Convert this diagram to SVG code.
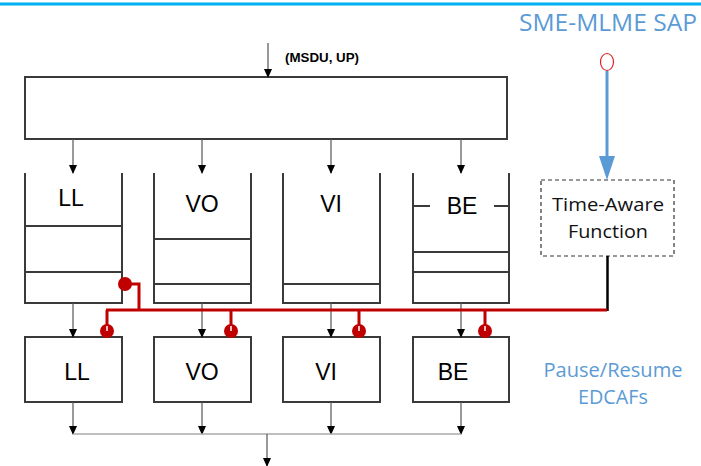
<svg xmlns="http://www.w3.org/2000/svg" width="701" height="466" viewBox="0 0 701 466">
<style>
.box{fill:#fff;stroke:#3a3a3a;stroke-width:2}
.q{fill:none;stroke:#3a3a3a;stroke-width:2}
.lbl{font-family:"Liberation Sans",Arial,sans-serif;font-size:23px;fill:#000;text-anchor:middle}
.blue{font-family:"Open Sans","Liberation Sans",sans-serif;fill:#5b9bd5;text-anchor:middle}
.taf{font-family:"Open Sans","Liberation Sans",sans-serif;fill:#111;text-anchor:middle;font-size:18px}
.arr{stroke:#555;stroke-width:1.2;fill:none;marker-end:url(#ah)}
.red{stroke:#c00000;stroke-width:3;fill:none}
.ball{fill:#c00000}
</style>
<defs>
<marker id="ah" markerUnits="userSpaceOnUse" markerWidth="10" markerHeight="10" refX="8" refY="5" orient="auto">
<path d="M0,1 L9,5 L0,9 Z" fill="#000"/>
</marker>
</defs>
<line x1="0" y1="4" x2="701" y2="4" stroke="#00b0f0" stroke-width="3"/>
<text class="blue" x="608" y="31" font-size="23" textLength="178" lengthAdjust="spacingAndGlyphs">SME-MLME SAP</text>

<g id="top-box">
<rect class="box" x="25" y="77" width="482" height="62"/>
</g>
<text x="285" y="62" font-family="Liberation Sans,Arial,sans-serif" font-size="13" font-weight="bold" textLength="74" lengthAdjust="spacingAndGlyphs">(MSDU, UP)</text>

<g id="queue-LL">
<path class="q" d="M25,173 V303 H122 V173 M25,226 H122 M25,272 H122"/>
<text class="lbl" x="71" y="206">LL</text>
</g>
<g id="queue-VO">
<path class="q" d="M154,173 V303 H251 V173 M154,239 H251 M154,284 H251"/>
<text class="lbl" x="202" y="212">VO</text>
</g>
<g id="queue-VI">
<path class="q" d="M283,173 V303 H380 V173 M283,284 H380"/>
<text class="lbl" x="331" y="212">VI</text>
</g>
<g id="queue-BE">
<path class="q" d="M413,173 V303 H509 V173 M413,252 H509 M413,272 H509 M413,206 H430 M494,206 H509"/>
<text class="lbl" x="462" y="214">BE</text>
</g>

<g id="time-aware">
<rect x="541" y="180" width="133" height="76" fill="#fff" stroke="#333" stroke-width="1.2" stroke-dasharray="4,3"/>
<text class="taf" x="608" y="211" textLength="112" lengthAdjust="spacingAndGlyphs">Time-Aware</text>
<text class="taf" x="608" y="238" textLength="80" lengthAdjust="spacingAndGlyphs">Function</text>
</g>

<g id="edca-LL"><rect class="box" x="25" y="337" width="97" height="65"/><text class="lbl" x="77" y="380">LL</text></g>
<g id="edca-VO"><rect class="box" x="154" y="337" width="97" height="65"/><text class="lbl" x="202" y="380">VO</text></g>
<g id="edca-VI"><rect class="box" x="283" y="337" width="97" height="65"/><text class="lbl" x="326" y="380">VI</text></g>
<g id="edca-BE"><rect class="box" x="413" y="337" width="96" height="65"/><text class="lbl" x="453" y="380">BE</text></g>

<text class="blue" x="613" y="377" font-size="20" textLength="139" lengthAdjust="spacingAndGlyphs">Pause/Resume</text>
<text class="blue" x="613" y="404" font-size="20" textLength="70" lengthAdjust="spacingAndGlyphs">EDCAFs</text>

<g id="connectors">
<line class="arr" x1="268" y1="43" x2="268" y2="77"/>
<line class="arr" x1="73" y1="139" x2="73" y2="173"/>
<line class="arr" x1="202" y1="139" x2="202" y2="173"/>
<line class="arr" x1="331" y1="139" x2="331" y2="173"/>
<line class="arr" x1="461" y1="139" x2="461" y2="173"/>
<line class="arr" x1="73" y1="303" x2="73" y2="337"/>
<line class="arr" x1="202" y1="303" x2="202" y2="337"/>
<line class="arr" x1="331" y1="303" x2="331" y2="337"/>
<line class="arr" x1="461" y1="303" x2="461" y2="337"/>
<line class="arr" x1="73" y1="402" x2="73" y2="434"/>
<line class="arr" x1="202" y1="402" x2="202" y2="434"/>
<line class="arr" x1="331" y1="402" x2="331" y2="434"/>
<line class="arr" x1="461" y1="402" x2="461" y2="434"/>
<line x1="73" y1="434" x2="461" y2="434" stroke="#aaa" stroke-width="1.5"/>
<line class="arr" x1="267" y1="434" x2="267" y2="466"/>

<ellipse cx="607" cy="62" rx="6.5" ry="8.5" fill="#fff" stroke="#e02020" stroke-width="1.2"/>
<line x1="607" y1="71" x2="607" y2="158" stroke="#5b9bd5" stroke-width="3"/>
<path d="M599,156 L615,156 L607,180 Z" fill="#5b9bd5"/>
<line x1="607.5" y1="256" x2="607.5" y2="311" stroke="#000" stroke-width="2.5"/>

<path class="red" d="M125,284 H139 V310"/>
<circle class="ball" cx="125" cy="284" r="7"/>
<path class="red" d="M106,310 H607"/>
<path class="red" d="M107,310 V331 M231,310 V331 M359,310 V331 M485,310 V331"/>
<circle class="ball" cx="107" cy="331" r="7"/>
<circle class="ball" cx="231" cy="331" r="7"/>
<circle class="ball" cx="359" cy="331" r="7"/>
<circle class="ball" cx="485" cy="331" r="7"/>
<path d="M107,326 V331 M231,326 V331 M359,326 V331 M485,326 V331" stroke="#fff" stroke-width="1.5"/>
</g>
</svg>
